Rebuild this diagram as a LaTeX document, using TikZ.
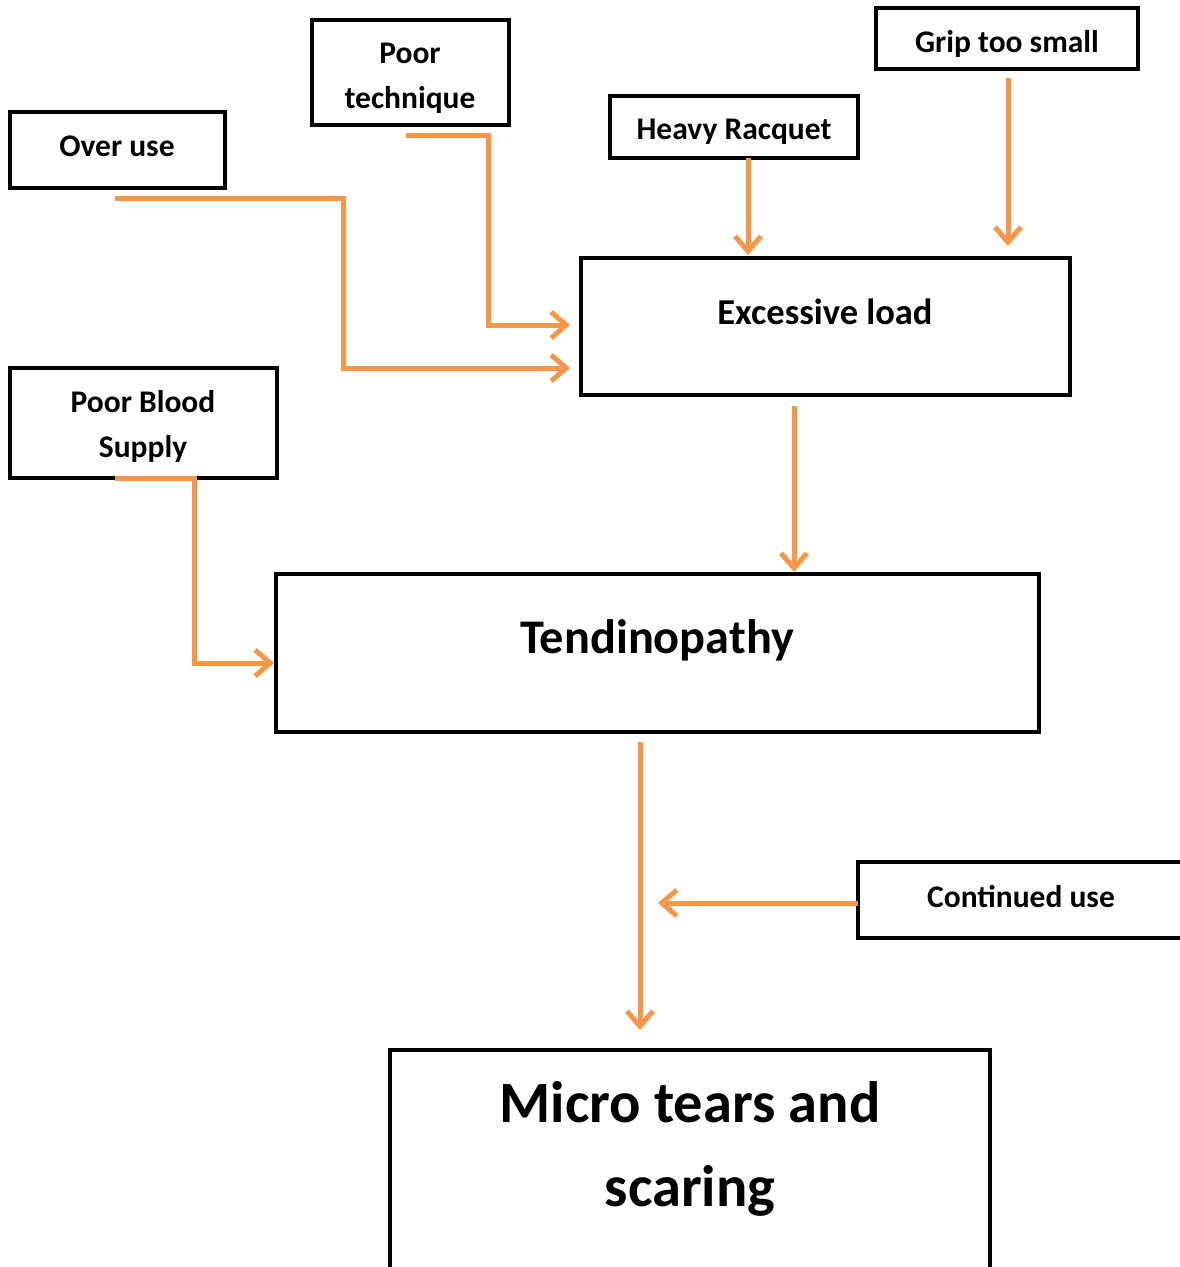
\documentclass[tikz,border=0pt]{standalone}
\usepackage{fontspec}
\setmainfont{Carlito}
\usetikzlibrary{arrows.meta,calc}
\definecolor{arrorange}{HTML}{F79646}
\tikzset{
  box/.style={draw=black,line width=4pt,rectangle,inner sep=0pt,outer sep=0pt,fill=white},
  lbl/.style={font=\bfseries\fontsize{31.5}{45}\selectfont,align=center,inner sep=0pt},
  conn/.style={draw=arrorange,line width=5pt,-{Straight Barb[length=15pt,width=26pt,line width=5pt]}}
}
\begin{document}
\begin{tikzpicture}[x=1pt,y=-1pt]
\useasboundingbox (0,0) rectangle (1180,1267);
\fill[white] (0,0) rectangle (1180,1267);
\clip (0,0) rectangle (1180,1267);
% boxes
\node[box,minimum width=215pt,minimum height=76pt] (overuse) at (117.5,150) {};
\node[box,minimum width=197pt,minimum height=105pt] (technique) at (410.5,72.5) {};
\node[box,minimum width=248pt,minimum height=62pt] (racquet) at (734,127) {};
\node[box,minimum width=262pt,minimum height=61pt] (grip) at (1007,38.5) {};
\node[box,minimum width=489pt,minimum height=137pt] (load) at (825.5,326.5) {};
\node[box,minimum width=267pt,minimum height=110pt] (blood) at (143.5,423) {};
\node[box,minimum width=763pt,minimum height=158pt] (tendi) at (657.5,653) {};
\node[box,minimum width=342pt,minimum height=76pt] (contuse) at (1029,900) {};
\node[box,minimum width=600pt,minimum height=250pt] (micro) at (690,1175) {};
% labels
\node[lbl] (toveruse) at (117,146) {Over use};
\node[lbl] (ttechnique) at (410,78) {Poor\\technique};
\node[lbl] (tracquet) at (734,132) {Heavy Racquet};
\node[lbl] (tgrip) at (1007,43.5) {Grip too small};
\node[lbl,font=\bfseries\fontsize{36.5}{45}\selectfont] (tload) at (825,312) {Excessive load};
\node[lbl] (tblood) at (143,426) {Poor Blood\\Supply};
\node[lbl,font=\bfseries\fontsize{48.3}{60}\selectfont] (ttendi) at (657,640) {Tendinopathy};
\node[lbl,font=\bfseries\fontsize{58.5}{84}\selectfont] (tmicro) at (690,1149) {Micro tears and\\scaring};
\node[lbl] (tcontuse) at (1021,897) {Continued use};
% connectors
\draw[conn] ([xshift=-2.5pt,yshift=-10pt]overuse.south) -| (343,368) -- ($(load.west|-0,368)+(-11,0)$);
\draw[conn] ([xshift=-4.5pt,yshift=-10pt]technique.south) -| (488,325) -- ($(load.west|-0,325)+(-11,0)$);
\draw[conn,shorten >=3pt] ([xshift=14pt]racquet.south) -- ([xshift=14pt]racquet.south |- load.north);
\draw[conn,shorten >=12pt] ([xshift=1pt,yshift=-9pt]grip.south) -- ([xshift=1pt]grip.south |- load.north);
\draw[conn,shorten >=2pt] ([xshift=-31.5pt,yshift=-11pt]load.south) -- ([xshift=-31.5pt]load.south |- tendi.north);
\draw[conn,shorten >=2pt] ([xshift=-28.5pt]blood.south) -| (194,663) -- (tendi.west|-0,663);
\coordinate (junction) at (640,903);
\draw[conn,shorten >=20pt] ([yshift=-10pt]tendi.south -| junction) -- (junction |- micro.north);
\draw[conn] (contuse.west |- junction) -- ([xshift=18pt]junction);
\end{tikzpicture}
\end{document}
